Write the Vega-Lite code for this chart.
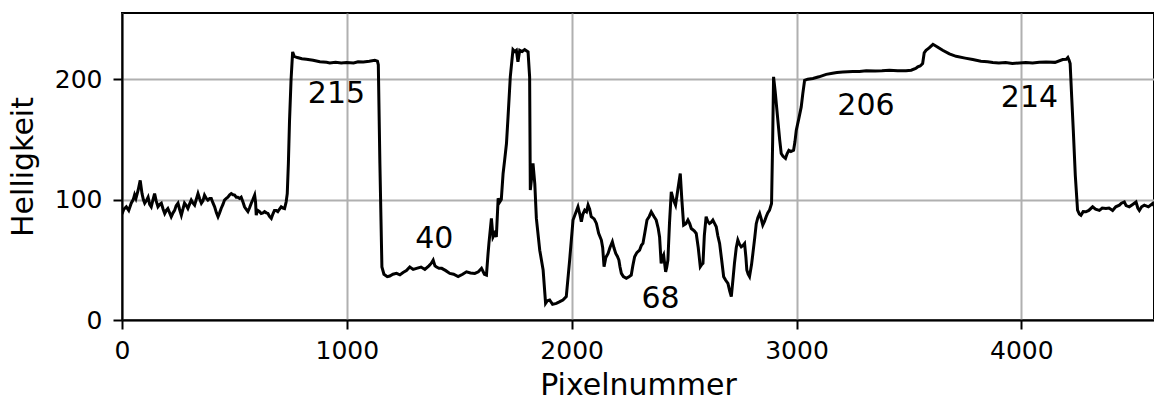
{
  "$schema": "https://vega.github.io/schema/vega-lite/v6.json",
  "width": 1032,
  "height": 307,
  "autosize": "none",
  "padding": {"left": 122, "top": 13, "right": 0, "bottom": 81},
  "background": "white",
  "config": {
    "font": "DejaVu Sans",
    "view": {"stroke": "black", "strokeWidth": 2},
    "axis": {
      "domainColor": "black",
      "domainWidth": 2,
      "tickColor": "black",
      "tickWidth": 2,
      "tickSize": 9,
      "labelColor": "black",
      "labelFontSize": 25,
      "labelFont": "DejaVu Sans",
      "titleFont": "DejaVu Sans",
      "titleFontSize": 30,
      "titleFontWeight": "normal",
      "titleColor": "black",
      "gridColor": "#b0b0b0",
      "gridWidth": 2,
      "gridOpacity": 1,
      "labelFlush": false,
      "labelOverlap": false
    }
  },
  "layer": [
    {
      "data": {"values": [
        {"x":0,"y":88},{"x":8,"y":92},{"x":19,"y":94},{"x":30,"y":91},{"x":41,"y":97},{"x":50,"y":100},{"x":56,"y":104},{"x":62,"y":101},{"x":72,"y":108},{"x":81,"y":116},{"x":89,"y":105},{"x":95,"y":100},{"x":101,"y":97},{"x":108,"y":99},{"x":116,"y":102},{"x":123,"y":96},{"x":130,"y":94},{"x":138,"y":100},{"x":145,"y":105},{"x":152,"y":99},{"x":160,"y":94},{"x":168,"y":96},{"x":175,"y":97},{"x":183,"y":92},{"x":190,"y":88.5},{"x":197,"y":91},{"x":204,"y":92.6},{"x":212,"y":89},{"x":219,"y":85.8},{"x":227,"y":89},{"x":234,"y":91},{"x":241,"y":95},{"x":249,"y":97},{"x":256,"y":92},{"x":264,"y":87},{"x":271,"y":92},{"x":278,"y":97},{"x":286,"y":95},{"x":293,"y":92.6},{"x":300,"y":96},{"x":308,"y":99.6},{"x":316,"y":97},{"x":323,"y":95.4},{"x":330,"y":100},{"x":338,"y":105},{"x":345,"y":101},{"x":353,"y":97},{"x":360,"y":99},{"x":367,"y":103.7},{"x":375,"y":101},{"x":382,"y":99.6},{"x":390,"y":101},{"x":397,"y":101},{"x":405,"y":97},{"x":412,"y":94},{"x":420,"y":89},{"x":427,"y":85.8},{"x":434,"y":89},{"x":441,"y":92.6},{"x":449,"y":96},{"x":456,"y":99.6},{"x":464,"y":101},{"x":471,"y":102},{"x":479,"y":104},{"x":486,"y":105},{"x":494,"y":104},{"x":501,"y":103.7},{"x":508,"y":102},{"x":515,"y":102},{"x":523,"y":101},{"x":530,"y":102},{"x":538,"y":98},{"x":545,"y":94},{"x":552,"y":92},{"x":560,"y":90},{"x":567,"y":93},{"x":575,"y":97},{"x":582,"y":100},{"x":590,"y":103.7},{"x":594,"y":98},{"x":597,"y":87},{"x":601,"y":90},{"x":604,"y":91},{"x":612,"y":90},{"x":619,"y":88.5},{"x":627,"y":89},{"x":634,"y":90},{"x":642,"y":89},{"x":649,"y":88.5},{"x":656,"y":86},{"x":664,"y":84.4},{"x":671,"y":88},{"x":678,"y":91},{"x":686,"y":91},{"x":693,"y":90},{"x":700,"y":92},{"x":708,"y":94},{"x":716,"y":93},{"x":723,"y":92.6},{"x":730,"y":98},{"x":735,"y":105},{"x":740,"y":130},{"x":745,"y":165},{"x":752,"y":200},{"x":759,"y":222.7},
        {"x":766,"y":219},{"x":780,"y":218},{"x":800,"y":217},{"x":820,"y":216.5},{"x":850,"y":215.8},{"x":880,"y":214.5},{"x":910,"y":214},{"x":924,"y":213.5},{"x":950,"y":214},{"x":975,"y":213.5},{"x":999,"y":213.8},{"x":1030,"y":213.5},{"x":1050,"y":214.5},{"x":1073,"y":214.4},{"x":1100,"y":215},{"x":1124,"y":215.8},{"x":1136,"y":215},{"x":1140,"y":212},{"x":1147,"y":130},{"x":1156,"y":44},{"x":1165,"y":38},
        {"x":1180,"y":36},{"x":1191,"y":36.5},{"x":1205,"y":38},{"x":1221,"y":38.7},{"x":1236,"y":37.5},{"x":1250,"y":39.5},{"x":1265,"y":41},{"x":1280,"y":44},{"x":1295,"y":42},{"x":1310,"y":42.9},{"x":1330,"y":44},{"x":1347,"y":42},{"x":1365,"y":45},{"x":1375,"y":47},{"x":1384,"y":49.8},{"x":1392,"y":45},{"x":1399,"y":44},{"x":1410,"y":43},{"x":1422,"y":42.9},{"x":1440,"y":41},{"x":1458,"y":38.7},{"x":1475,"y":38},{"x":1495,"y":36},{"x":1515,"y":38},{"x":1532,"y":40},{"x":1550,"y":39},{"x":1569,"y":38.7},{"x":1585,"y":40},{"x":1599,"y":42.9},{"x":1612,"y":38},{"x":1621,"y":37.3},{"x":1628,"y":55},{"x":1632,"y":63.6},{"x":1643,"y":84.4},{"x":1650,"y":69},{"x":1658,"y":72},{"x":1665,"y":69},{"x":1673,"y":101},{"x":1680,"y":98},{"x":1687,"y":100},{"x":1695,"y":121.7},{"x":1702,"y":133},{"x":1710,"y":146.6},{"x":1717,"y":168.7},{"x":1727,"y":202},{"x":1739,"y":224.6},{"x":1747,"y":223},{"x":1754,"y":224},{"x":1761,"y":214.4},{"x":1769,"y":224},{"x":1780,"y":223},{"x":1791,"y":224.6},{"x":1806,"y":222.7},{"x":1813,"y":202},{"x":1816,"y":108},{"x":1822,"y":118},{"x":1828,"y":130},{"x":1836,"y":113},{"x":1843,"y":84.4},{"x":1858,"y":58},{"x":1873,"y":41.5},{"x":1884,"y":13.8},{"x":1892,"y":16},{"x":1902,"y":16.6},{"x":1915,"y":13},{"x":1932,"y":13.8},{"x":1945,"y":15},{"x":1961,"y":16.6},{"x":1976,"y":19.4},{"x":1991,"y":49.8},{"x":2006,"y":83},{"x":2028,"y":94},{"x":2036,"y":88},{"x":2043,"y":81.6},{"x":2050,"y":88},{"x":2058,"y":91.3},{"x":2066,"y":90},{"x":2073,"y":95.4},{"x":2080,"y":92},{"x":2087,"y":85.8},{"x":2100,"y":84},{"x":2110,"y":80.2},{"x":2120,"y":72},{"x":2132,"y":66.4},{"x":2138,"y":60},{"x":2144,"y":44.3},{"x":2152,"y":52},{"x":2162,"y":55.3},{"x":2170,"y":60},{"x":2181,"y":65},{"x":2188,"y":60},{"x":2196,"y":55.3},{"x":2203,"y":53},{"x":2210,"y":49.8},{"x":2215,"y":44},{"x":2221,"y":38.7},{"x":2230,"y":36},{"x":2243,"y":34.6},{"x":2255,"y":36},{"x":2265,"y":37.3},{"x":2272,"y":45},{"x":2280,"y":52.6},{"x":2290,"y":56},{"x":2302,"y":58},{"x":2310,"y":62},{"x":2317,"y":63.6},{"x":2325,"y":72},{"x":2335,"y":83},{"x":2345,"y":86},{"x":2354,"y":89.9},{"x":2366,"y":86},{"x":2376,"y":83},{"x":2385,"y":76},{"x":2391,"y":69},{"x":2398,"y":47},{"x":2404,"y":52},{"x":2409,"y":54},{"x":2418,"y":40},{"x":2423,"y":44},{"x":2428,"y":49.8},{"x":2435,"y":80},{"x":2443,"y":106.5},{"x":2452,"y":100},{"x":2462,"y":95.4},{"x":2472,"y":108},{"x":2483,"y":121.7},{"x":2490,"y":100},{"x":2498,"y":78.8},{"x":2508,"y":80},{"x":2517,"y":83},{"x":2525,"y":80},{"x":2532,"y":76},{"x":2545,"y":74},{"x":2554,"y":71.9},{"x":2563,"y":60},{"x":2572,"y":44.3},{"x":2578,"y":46},{"x":2584,"y":47},{"x":2590,"y":70},{"x":2598,"y":85.8},{"x":2605,"y":82},{"x":2613,"y":80.2},{"x":2620,"y":81},{"x":2628,"y":83},{"x":2636,"y":80},{"x":2643,"y":77.4},{"x":2650,"y":70},{"x":2658,"y":63.6},{"x":2667,"y":50},{"x":2676,"y":36},{"x":2685,"y":33},{"x":2695,"y":30.4},{"x":2703,"y":24},{"x":2710,"y":19.4},{"x":2717,"y":33},{"x":2724,"y":47},{"x":2732,"y":60},{"x":2739,"y":66.4},{"x":2746,"y":63},{"x":2754,"y":60.8},{"x":2762,"y":62},{"x":2769,"y":63.6},{"x":2775,"y":52},{"x":2779,"y":41.5},{"x":2785,"y":38},{"x":2791,"y":36},{"x":2800,"y":46},{"x":2806,"y":55.3},{"x":2814,"y":68},{"x":2821,"y":80},{"x":2828,"y":85},{"x":2836,"y":88.5},{"x":2843,"y":84},{"x":2850,"y":78.8},{"x":2858,"y":82},{"x":2865,"y":85.8},{"x":2872,"y":89},{"x":2880,"y":91.3},{"x":2889,"y":96.8},{"x":2894,"y":150},{"x":2898,"y":202},{"x":2905,"y":190},{"x":2917,"y":166},{"x":2925,"y":150},{"x":2932,"y":138.3},{"x":2940,"y":136},{"x":2951,"y":134.2},{"x":2958,"y":138},{"x":2966,"y":141},{"x":2975,"y":140},{"x":2987,"y":141},{"x":2993,"y":148},{"x":2999,"y":157.7},{"x":3010,"y":167},{"x":3021,"y":177},{"x":3028,"y":188},{"x":3036,"y":199},{"x":3050,"y":200},{"x":3073,"y":200.6},{"x":3100,"y":202},{"x":3132,"y":204},{"x":3160,"y":205},{"x":3180,"y":205.5},{"x":3206,"y":206},{"x":3250,"y":206.5},{"x":3280,"y":206.5},{"x":3310,"y":207},{"x":3350,"y":206.8},{"x":3380,"y":207},{"x":3413,"y":207.5},{"x":3450,"y":207},{"x":3487,"y":207},{"x":3510,"y":207.5},{"x":3530,"y":209},{"x":3539,"y":210.2},{"x":3550,"y":211},{"x":3561,"y":213},{"x":3568,"y":222},{"x":3576,"y":224},{"x":3590,"y":226},{"x":3607,"y":229},{"x":3625,"y":227},{"x":3650,"y":224},{"x":3680,"y":221},{"x":3710,"y":219},{"x":3750,"y":217.5},{"x":3784,"y":216.3},{"x":3820,"y":215},{"x":3850,"y":214.5},{"x":3873,"y":213.8},{"x":3900,"y":213.5},{"x":3930,"y":213.8},{"x":3960,"y":213},{"x":3991,"y":213.5},{"x":4020,"y":213.8},{"x":4050,"y":213.5},{"x":4080,"y":214},{"x":4110,"y":214.4},{"x":4150,"y":214},{"x":4184,"y":216.3},{"x":4200,"y":216.5},{"x":4207,"y":218},{"x":4212,"y":216},{"x":4217,"y":213},{"x":4224,"y":185},{"x":4231,"y":157.7},{"x":4240,"y":120},{"x":4250,"y":91.3},{"x":4258,"y":88},{"x":4265,"y":87},{"x":4275,"y":90},{"x":4287,"y":89.9},{"x":4300,"y":91},{"x":4317,"y":94},{"x":4330,"y":92},{"x":4347,"y":91},{"x":4360,"y":93},{"x":4376,"y":92.6},{"x":4390,"y":93},{"x":4406,"y":91},{"x":4420,"y":94},{"x":4436,"y":95.4},{"x":4445,"y":97},{"x":4458,"y":98},{"x":4466,"y":95},{"x":4480,"y":94},{"x":4495,"y":96},{"x":4510,"y":98},{"x":4518,"y":93},{"x":4525,"y":91},{"x":4535,"y":94},{"x":4547,"y":95.4},{"x":4565,"y":94},{"x":4584,"y":96.8},{"x":4590,"y":95}
      ]},
      "mark": {"type": "line", "color": "black", "strokeWidth": 3, "clip": true},
      "encoding": {
        "x": {
          "field": "x", "type": "quantitative",
          "scale": {"domain": [0, 4590], "nice": false, "zero": false},
          "axis": {
            "title": "Pixelnummer",
            "values": [0, 1000, 2000, 3000, 4000],
            "format": "d",
            "labelBaseline": "alphabetic",
            "labelPadding": 29,
            "titleBaseline": "alphabetic",
            "titleY": 74,
            "titleX": 516,
            "titleAlign": "center"
          }
        },
        "y": {
          "field": "y", "type": "quantitative",
          "scale": {"domain": [0, 255], "nice": false},
          "axis": {
            "title": "Helligkeit",
            "values": [0, 100, 200],
            "format": "d",
            "labelPadding": 11,
            "labelBaseline": "middle",
            "titleAngle": 270,
            "titleBaseline": "middle",
            "titleAlign": "center",
            "titleX": -99,
            "titleY": 153.5
          }
        }
      }
    },
    {
      "data": {"values": [
        {"x": 954, "y": 180, "label": "215"},
        {"x": 1389, "y": 59.8, "label": "40"},
        {"x": 2395, "y": 10, "label": "68"},
        {"x": 3309, "y": 170, "label": "206"},
        {"x": 4036, "y": 176.8, "label": "214"}
      ]},
      "mark": {"type": "text", "fontSize": 30, "font": "DejaVu Sans", "color": "black", "align": "center", "baseline": "alphabetic"},
      "encoding": {
        "x": {"field": "x", "type": "quantitative"},
        "y": {"field": "y", "type": "quantitative"},
        "text": {"field": "label"}
      }
    }
  ]
}
